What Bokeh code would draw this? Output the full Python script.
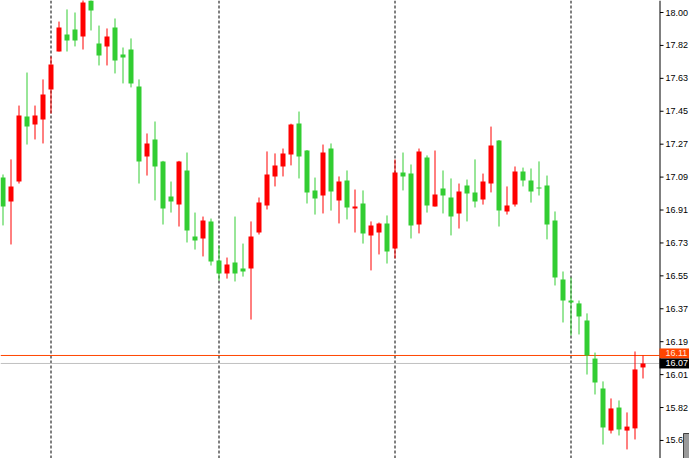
from bokeh.plotting import figure
from bokeh.models import Range1d, Span, ColumnDataSource
from bokeh.core.properties import value
from bokeh.embed import file_html
from bokeh.resources import INLINE

# ---- data (hourly candles, oldest first) ----
opens = [17.093, 16.961, 17.071, 17.430, 17.386, 17.413, 17.579, 17.788, 17.882, 17.909,
         17.871, 18.075, 17.832, 17.816, 17.920, 17.772, 17.799, 17.595, 17.209, 17.303,
         17.182, 16.989, 16.944, 17.132, 16.768, 16.757, 16.851, 16.636, 16.564, 16.625,
         16.592, 16.592, 16.790, 16.939, 17.099, 17.154, 17.220, 17.391, 17.242, 17.022,
         16.994, 17.253, 16.967, 17.077, 16.922, 16.950, 16.774, 16.790, 16.840, 16.702,
         17.121, 17.115, 16.834, 17.204, 16.933, 17.033, 16.983, 16.895, 17.049, 17.011,
         16.972, 17.060, 17.297, 16.906, 16.944, 17.126, 17.077, 17.038, 17.049, 16.856,
         16.531, 16.415, 16.399, 16.305, 16.095, 15.930, 15.698, 15.825, 15.698, 15.710,
         16.046]
highs = [17.110, 17.193, 17.490, 17.672, 17.490, 17.634, 17.760, 17.953, 18.020, 18.003,
         18.075, 18.085, 17.931, 17.915, 17.970, 17.810, 17.860, 17.634, 17.336, 17.402,
         17.185, 17.071, 17.185, 17.231, 16.900, 16.878, 16.867, 16.718, 16.652, 16.878,
         16.729, 16.851, 16.983, 17.237, 17.226, 17.253, 17.390, 17.457, 17.245, 17.093,
         17.275, 17.281, 17.099, 17.132, 17.027, 17.022, 16.851, 16.845, 16.884, 17.193,
         17.231, 17.165, 17.253, 17.215, 17.242, 17.132, 17.088, 17.060, 17.082, 17.193,
         17.115, 17.374, 17.300, 17.044, 17.154, 17.148, 17.143, 17.182, 17.104, 16.906,
         16.575, 16.542, 16.415, 16.344, 16.128, 15.969, 15.875, 15.864, 15.798, 16.134,
         16.112]
lows = [16.829, 16.724, 17.060, 17.275, 17.303, 17.281, 17.446, 17.788, 17.788, 17.816,
        17.799, 17.904, 17.711, 17.711, 17.667, 17.612, 17.590, 17.060, 17.104, 16.967,
        16.834, 16.900, 16.823, 16.735, 16.696, 16.658, 16.608, 16.525, 16.536, 16.520,
        16.547, 16.310, 16.779, 16.917, 17.044, 17.099, 17.160, 17.088, 16.950, 16.889,
        16.895, 16.911, 16.840, 16.862, 16.790, 16.729, 16.581, 16.669, 16.619, 16.647,
        17.022, 16.757, 16.785, 16.900, 16.933, 16.895, 16.774, 16.812, 16.851, 16.928,
        16.944, 17.011, 16.823, 16.889, 16.933, 17.044, 16.955, 16.994, 16.752, 16.498,
        16.294, 16.222, 16.228, 16.007, 15.897, 15.621, 15.682, 15.671, 15.594, 15.649,
        15.985]
closes = [16.933, 17.044, 17.435, 17.375, 17.435, 17.551, 17.716, 17.920, 17.849, 17.849,
          18.058, 18.014, 17.766, 17.871, 17.738, 17.755, 17.612, 17.182, 17.281, 17.154,
          16.922, 16.961, 17.182, 16.801, 16.746, 16.856, 16.630, 16.564, 16.614, 16.564,
          16.575, 16.768, 16.955, 17.110, 17.160, 17.226, 17.386, 17.209, 17.011, 16.978,
          17.231, 17.016, 17.071, 16.928, 16.933, 16.785, 16.829, 16.840, 16.685, 17.121,
          17.099, 16.829, 17.237, 16.939, 17.000, 16.994, 16.878, 17.016, 17.005, 16.961,
          17.071, 17.270, 16.911, 16.939, 17.126, 17.077, 17.016, 17.033, 16.834, 16.542,
          16.415, 16.404, 16.327, 16.112, 15.963, 15.715, 15.820, 15.704, 15.720, 16.035,
          16.068]

separators = [6, 27, 49, 71]   # day separators (bar index)
bid_price = 16.068
ask_price = 16.112
tick_values = [18.003, 17.8215, 17.640, 17.4585, 17.277, 17.0955, 16.914,
               16.7325, 16.551, 16.3695, 16.188, 16.0065, 15.825, 15.6435]
tick_labels = ["18.00", "17.82", "17.63", "17.45", "17.27", "17.09", "16.91",
               "16.73", "16.55", "16.37", "16.19", "16.01", "15.82", "15.64"]

UP = "#FF0000"
DOWN = "#32CD32"
ASK_COLOR = "#FF4500"
BID_COLOR = "#C0C0C0"

# ---- layout: 8 px per bar, full-window frame, price scale drawn at the right ----
W, H = 689, 458
PX_PER_BAR = 8.0
BAR0_PX = 2.5
Y0, Y1 = 15.5440, 18.0692
PRICE_PER_PX = (Y1 - Y0) / H


def bx(px):
    """bar-axis coordinate of a horizontal pixel position"""
    return (px - BAR0_PX) / PX_PER_BAR


CHART_RIGHT = bx(659)      # end of candle area
AXIS_X = bx(659.5)         # price-scale line
TICK_END = bx(663)
LABEL_X = bx(665)

idx = list(range(len(opens)))
colors = [UP if c >= o else DOWN for o, c in zip(opens, closes)]
tops = [max(o, c) for o, c in zip(opens, closes)]
bots = [min(o, c) for o, c in zip(opens, closes)]
bots = [b if t - b > 0.004 else t - PRICE_PER_PX for t, b in zip(tops, bots)]

src = ColumnDataSource(dict(x=idx, o=opens, h=highs, l=lows, c=closes,
                            top=tops, bot=bots, color=colors))

p = figure(frame_width=W, frame_height=H,
           x_range=Range1d(bx(0), bx(W)), y_range=Range1d(Y0, Y1),
           output_backend="svg", toolbar_location=None,
           x_axis_location=None, y_axis_location=None,
           min_border=0)
p.outline_line_color = None
p.xgrid.visible = False
p.ygrid.visible = False
p.background_fill_color = "white"
p.border_fill_color = "white"

for s in separators:
    p.add_layout(Span(location=s, dimension="height", line_color="black",
                      line_dash="3 2", line_width=1, level="underlay"))

# bid / ask lines across the candle area
p.segment(x0=[bx(0), bx(0)], x1=[CHART_RIGHT, CHART_RIGHT],
          y0=[ask_price, bid_price], y1=[ask_price, bid_price],
          line_color=[ASK_COLOR, BID_COLOR], line_width=1)

# candles
p.segment(x0="x", y0="l", x1="x", y1="h", line_color="color", line_width=1, source=src)
p.vbar(x="x", width=0.625, top="top", bottom="bot", fill_color="color",
       line_color=None, source=src)

# price scale
p.segment(x0=[AXIS_X], x1=[AXIS_X], y0=[Y0], y1=[Y1], line_color="black", line_width=1)
p.segment(x0=[AXIS_X] * len(tick_values), x1=[TICK_END] * len(tick_values),
          y0=tick_values, y1=tick_values, line_color="black", line_width=1)
p.text(x=[LABEL_X] * len(tick_values), y=tick_values, text=tick_labels,
       text_font=value("Liberation Sans"), text_font_size=value("9px"),
       text_color="black", text_align="left", text_baseline="middle")

# bid / ask price tags
half = 5 * PRICE_PER_PX
bid_top = bid_price + half
p.quad(left=[bx(659), bx(659)], right=[bx(W), bx(W)],
       bottom=[bid_top, bid_price - half], top=[bid_top + 2 * half, bid_top],
       fill_color=[ASK_COLOR, "black"], line_color=None)
p.text(x=[LABEL_X, LABEL_X], y=[bid_top + half, bid_price],
       text=[f"{ask_price:.2f}", f"{bid_price:.2f}"],
       text_font=value("Liberation Sans"), text_font_size=value("9px"),
       text_color=["#FFE8DC", "white"], text_align="left", text_baseline="middle")

# small scroll button in the lower right corner
p.quad(left=[bx(683)], right=[bx(W)], bottom=[Y0], top=[Y0 + 25 * PRICE_PER_PX],
       fill_color="#9A9A9A", line_color="#404040", line_width=1)

open("out.html", "w").write(file_html(p, INLINE))
